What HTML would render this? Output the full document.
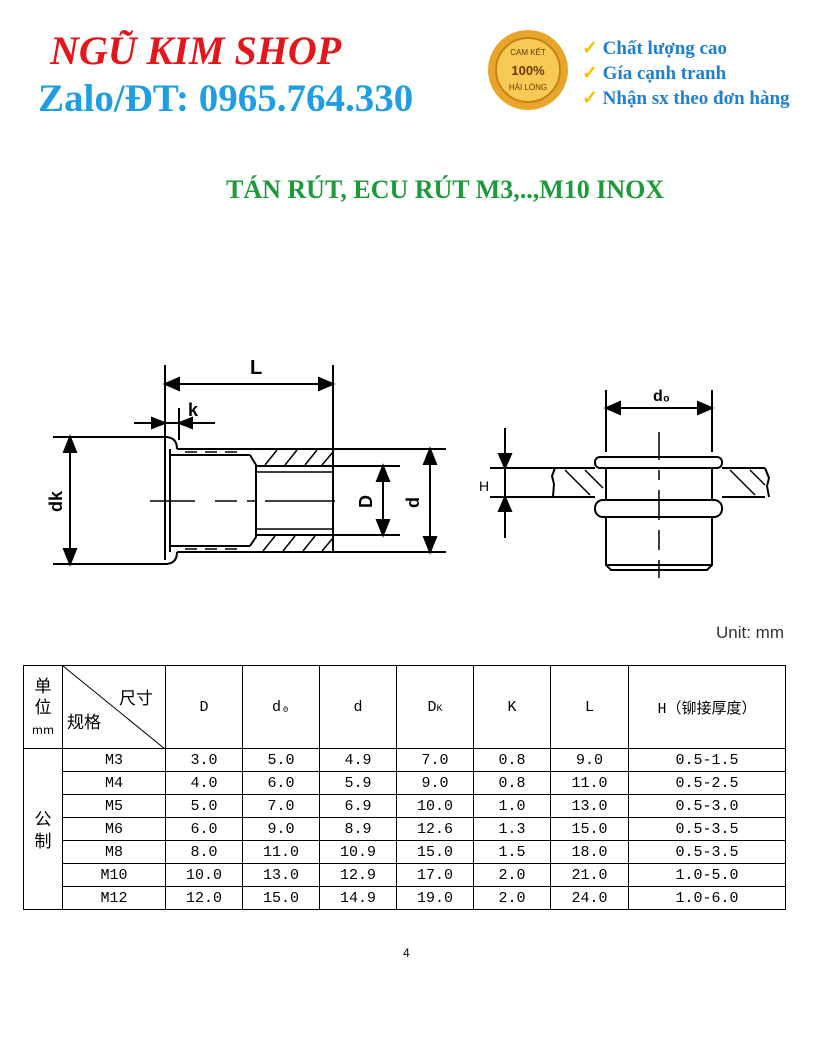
<!DOCTYPE html>
<html><head><meta charset="utf-8"><style>
body{margin:0;background:#fff;}
.p{position:relative;width:816px;height:1056px;overflow:hidden;font-family:"Liberation Serif",serif;}
.a{position:absolute;white-space:nowrap;}
table{position:absolute;left:23px;top:665px;border-collapse:collapse;font-family:"Liberation Mono","Noto Sans CJK SC",monospace;font-size:15px;}
td{border:1px solid #000;padding:0;text-align:center;height:22px;}
</style></head><body><div class="p">
<div class="a" style="left:50px;top:27px;font-size:40px;font-weight:bold;font-style:italic;color:#e3161b;">NGŨ KIM SHOP</div>
<div class="a" style="left:38px;top:76px;font-size:39px;font-weight:bold;color:#1f9ee3;">Zalo/ĐT: 0965.764.330</div>
<svg class="a" style="left:486px;top:28px" width="84" height="84" viewBox="0 0 84 84">
<circle cx="42" cy="42" r="40" fill="#e9a52a"/><circle cx="42" cy="42" r="32" fill="#f7c955" stroke="#c9821a" stroke-width="2"/>
<text x="42" y="27" font-size="8" text-anchor="middle" fill="#6b3b00" font-family="Liberation Sans">CAM KẾT</text>
<text x="42" y="47" font-size="13" font-weight="bold" text-anchor="middle" fill="#6b3b00" font-family="Liberation Sans">100%</text>
<text x="42" y="62" font-size="8" text-anchor="middle" fill="#6b3b00" font-family="Liberation Sans">HÀI LÒNG</text></svg>
<div class="a" style="left:582px;top:36px;font-size:19px;font-weight:bold;color:#1f7fd0;line-height:25px;"><span style="color:#f2c300">✓</span> Chất lượng cao<br><span style="color:#f2c300">✓</span> Gía cạnh tranh<br><span style="color:#f2c300">✓</span> Nhận sx theo đơn hàng</div>
<div class="a" style="left:226px;top:175px;font-size:26px;font-weight:bold;color:#1e9a3a;">TÁN RÚT, ECU RÚT M3,..,M10 INOX</div>
<svg class="a" style="left:0;top:0" width="816" height="660" fill="none" stroke="#000" stroke-width="2">
<line x1="165" y1="365" x2="165" y2="560"/><line x1="333" y1="365" x2="333" y2="552"/>
<line x1="168" y1="384" x2="330" y2="384"/>
<path d="M165 384l14-6v12z M333 384l-14-6v12z" fill="#000"/>
<text x="250" y="374" font-size="20" font-weight="bold" fill="#000" stroke="none" font-family="Liberation Sans">L</text>
<line x1="134" y1="423" x2="215" y2="423"/><line x1="179" y1="408" x2="179" y2="440"/>
<path d="M165 423l-13-5v10z M179 423l13-5v10z" fill="#000"/>
<text x="188" y="416" font-size="18" font-weight="bold" fill="#000" stroke="none" font-family="Liberation Sans">k</text>
<line x1="53" y1="437" x2="168" y2="437"/><line x1="53" y1="564" x2="168" y2="564"/>
<line x1="70" y1="440" x2="70" y2="561"/><path d="M70 437l-6 15h12z M70 564l-6-15h12z" fill="#000"/>
<text x="0" y="0" font-size="18" font-weight="bold" fill="#000" stroke="none" font-family="Liberation Sans" transform="translate(62 512) rotate(-90)">dk</text>
<path d="M165 437q12 0 12 12 M165 564q12 0 12-12"/>
<line x1="177" y1="449" x2="446" y2="449"/><line x1="177" y1="552" x2="446" y2="552"/>
<line x1="170" y1="455" x2="250" y2="455"/><line x1="170" y1="546" x2="250" y2="546"/>
<line x1="170" y1="449" x2="170" y2="552"/>
<path d="M250 455l6 10v72l-6 9"/>
<line x1="256" y1="466" x2="400" y2="466"/><line x1="256" y1="535" x2="400" y2="535"/>
<line x1="256" y1="472" x2="333" y2="472" stroke-width="1.5"/><line x1="256" y1="529" x2="333" y2="529" stroke-width="1.5"/>
<g stroke-width="1.5"><path d="M265 465l12-15M285 465l12-15M305 465l12-15M322 465l11-13M263 551l12-15M283 551l12-15M303 551l12-15M322 551l11-13"/>
<path d="M185 452h12M205 452h12M225 452h12M185 549h12M205 549h12M225 549h12"/></g>
<path d="M150 501h45M215 501h22M247 501h8M265 501h70" stroke-width="1.5"/>
<line x1="383" y1="469" x2="383" y2="532"/><path d="M383 466l-6 15h12z M383 535l-6-15h12z" fill="#000"/>
<text x="0" y="0" font-size="18" font-weight="bold" fill="#000" stroke="none" font-family="Liberation Sans" transform="translate(372 508) rotate(-90)">D</text>
<line x1="430" y1="452" x2="430" y2="549"/><path d="M430 449l-6 15h12z M430 552l-6-15h12z" fill="#000"/>
<text x="0" y="0" font-size="18" font-weight="bold" fill="#000" stroke="none" font-family="Liberation Sans" transform="translate(419 508) rotate(-90)">d</text>
<line x1="606" y1="390" x2="606" y2="452"/><line x1="712" y1="390" x2="712" y2="452"/>
<line x1="609" y1="408" x2="709" y2="408"/><path d="M606 408l14-6v12z M712 408l-14-6v12z" fill="#000"/>
<text x="653" y="401" font-size="16" font-weight="bold" fill="#000" stroke="none" font-family="Liberation Sans">d₀</text>
<line x1="490" y1="468" x2="595" y2="468"/><line x1="490" y1="497" x2="595" y2="497"/>
<line x1="722" y1="468" x2="765" y2="468"/><line x1="722" y1="497" x2="765" y2="497"/>
<path d="M555 468l-3 8 2 8-1 13M765 468l4 10-2 8 2 11"/>
<path d="M565 470l25 25M585 470l18 18M730 470l25 25M750 470l15 15" stroke-width="1.5"/>
<line x1="505" y1="428" x2="505" y2="538"/><path d="M505 468l-6-14h12z M505 497l-6 14h12z" fill="#000"/>
<text x="479" y="491" font-size="14" fill="#000" stroke="none" font-family="Liberation Sans">H</text>
<rect x="595" y="457" width="127" height="11" rx="5"/>
<line x1="606" y1="468" x2="606" y2="500"/><line x1="712" y1="468" x2="712" y2="500"/>
<rect x="595" y="500" width="127" height="17" rx="8"/>
<path d="M606 517v48l5 5h96l5-5v-48M606 565h106"/>
<path d="M659 432v28M659 470v10M659 490v30M659 530v20M659 560v18" stroke-width="1.5"/>
</svg>
<div class="a" style="left:716px;top:623px;font-family:'Liberation Sans',sans-serif;font-size:17px;color:#333;">Unit: mm</div>
<table>
<tr style="height:83px"><td style="width:38px;font-family:'Noto Sans CJK SC';font-size:17px;line-height:21px;">单<br>位<br><span style="font-size:12px">mm</span></td>
<td style="width:102px;position:relative;font-family:'Noto Sans CJK SC';font-size:17px;"><svg style="position:absolute;left:0;top:0" width="102" height="83"><line x1="0" y1="0" x2="102" y2="83" stroke="#000"/></svg><span style="position:absolute;right:12px;top:18px">尺寸</span><span style="position:absolute;left:4px;top:42px">规格</span></td>
<td style="width:76px">D</td><td style="width:76px">d₀</td><td style="width:76px">d</td><td style="width:76px">D<span style="font-size:10px">K</span></td><td style="width:76px">K</td><td style="width:77px">L</td><td style="width:156px">H（铆接厚度）</td></tr>
<tr><td rowspan="7" style="font-family:'Noto Sans CJK SC';font-size:17px;line-height:22px;">公<br>制</td><td>M3</td><td>3.0</td><td>5.0</td><td>4.9</td><td>7.0</td><td>0.8</td><td>9.0</td><td>0.5-1.5</td></tr>
<tr><td>M4</td><td>4.0</td><td>6.0</td><td>5.9</td><td>9.0</td><td>0.8</td><td>11.0</td><td>0.5-2.5</td></tr>
<tr><td>M5</td><td>5.0</td><td>7.0</td><td>6.9</td><td>10.0</td><td>1.0</td><td>13.0</td><td>0.5-3.0</td></tr>
<tr><td>M6</td><td>6.0</td><td>9.0</td><td>8.9</td><td>12.6</td><td>1.3</td><td>15.0</td><td>0.5-3.5</td></tr>
<tr><td>M8</td><td>8.0</td><td>11.0</td><td>10.9</td><td>15.0</td><td>1.5</td><td>18.0</td><td>0.5-3.5</td></tr>
<tr><td>M10</td><td>10.0</td><td>13.0</td><td>12.9</td><td>17.0</td><td>2.0</td><td>21.0</td><td>1.0-5.0</td></tr>
<tr><td>M12</td><td>12.0</td><td>15.0</td><td>14.9</td><td>19.0</td><td>2.0</td><td>24.0</td><td>1.0-6.0</td></tr>
</table>
<div class="a" style="left:403px;top:946px;font-family:'Liberation Sans',sans-serif;font-size:12px;">4</div>
</div></body></html>
